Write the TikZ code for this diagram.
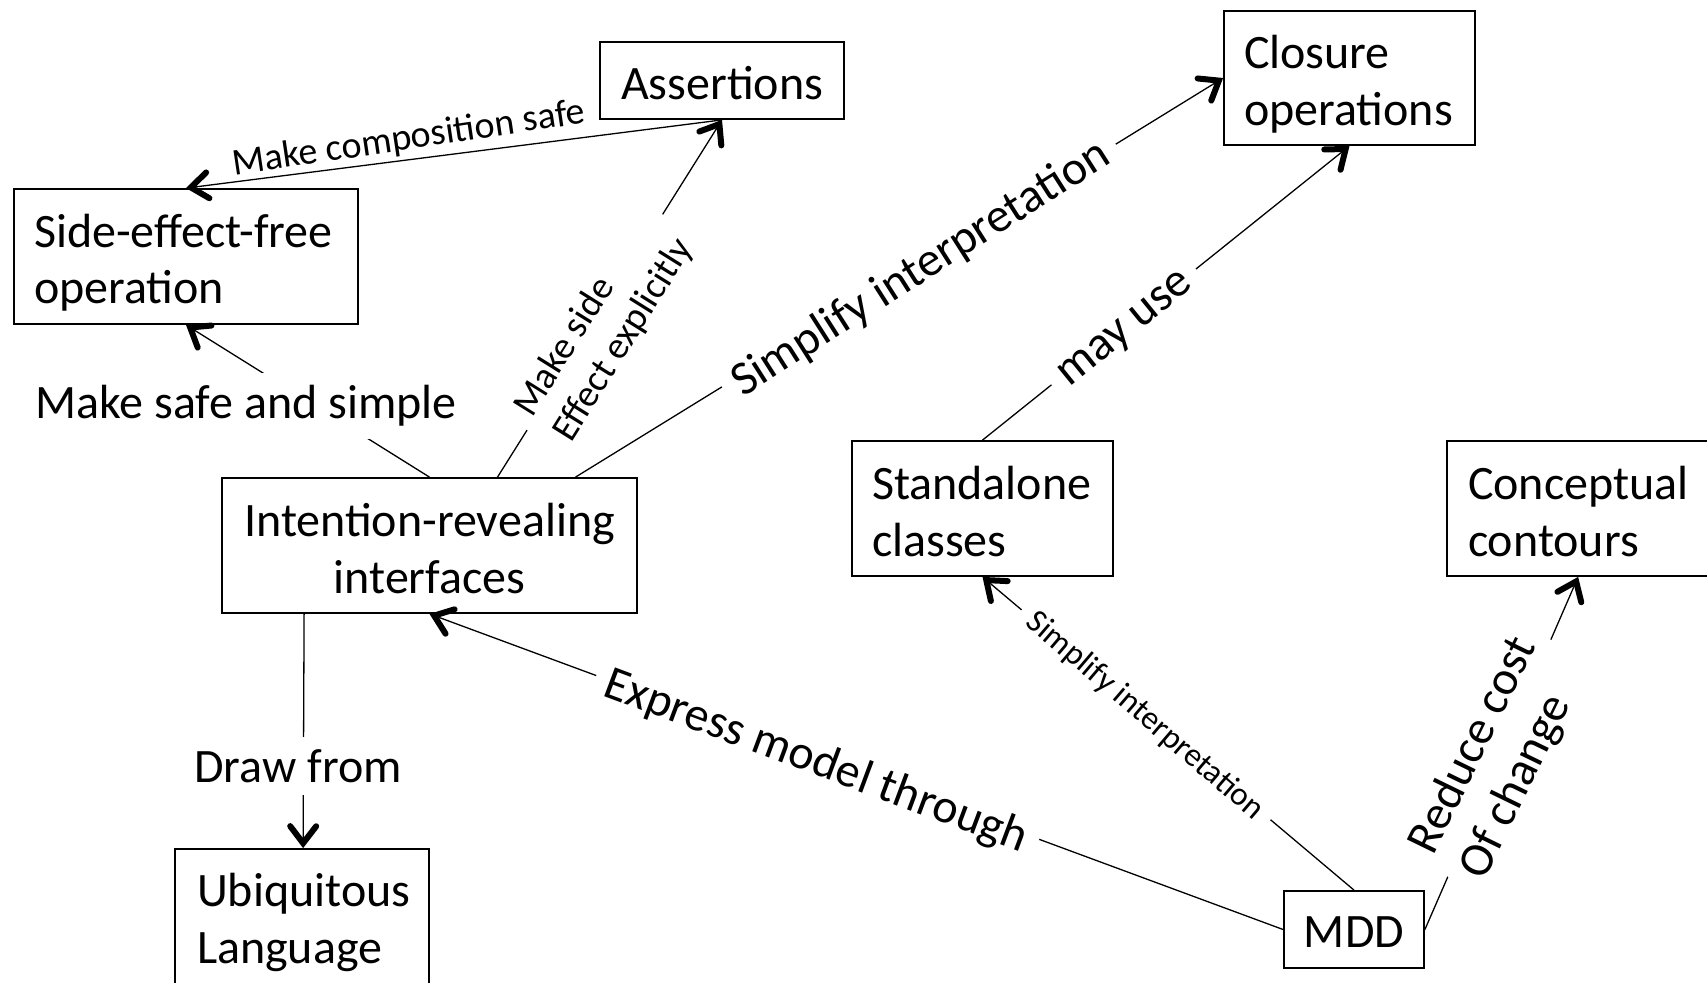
\documentclass[tikz,border=0pt]{standalone}
\usepackage{fontspec}
\setmainfont{Carlito}
\usetikzlibrary{arrows.meta,calc}
\newcommand\bigtxt{\fontsize{24pt}{28.3pt}\selectfont}
\newcommand\midtxt{\fontsize{19pt}{23pt}\selectfont}
\newcommand\smalltxt{\fontsize{16.5pt}{20pt}\selectfont}
\begin{document}
\begin{tikzpicture}[x=0.5pt,y=-0.5pt,
  frame/.style={draw, line width=0.9pt, inner sep=0pt},
  txt/.style={inner sep=0pt, font=\bigtxt},
  ltxt/.style={txt, align=left},
  conn/.style={line width=0.65pt},
  arr/.style={conn, -{Straight Barb[length=8.5pt,width=13pt,line width=3pt,line cap=round]}},
  lab/.style={fill=white, inner sep=6pt}]
\useasboundingbox (0,0) rectangle (1707,982);

% concept boxes (frame + text)
\node[frame, minimum width=122pt, minimum height=38.5pt] (asrt) at (722,80.5) {};
\node[txt] (asrtT) at ($(asrt.center)+(0,3)$) {Assertions};

\node[frame, minimum width=125.5pt, minimum height=67pt] (clos) at (1349.5,78) {};
\node[ltxt, text width=105.5pt] (closT) at ($(clos.center)+(0,6)$) {Closure\\operations};

\node[frame, minimum width=172pt, minimum height=67.5pt] (sefo) at (186,256.5) {};
\node[ltxt, text width=152pt] (sefoT) at ($(sefo.center)+(0,6)$) {Side-effect-free\\operation};

\node[frame, minimum width=207.5pt, minimum height=67.5pt] (intf) at (429.5,545.5) {};
\node[txt, align=center] (intfT) at ($(intf.center)+(0,3)$) {Intention-revealing\\interfaces};

\node[frame, minimum width=130.5pt, minimum height=67.5pt] (stnd) at (982.5,508.5) {};
\node[ltxt, text width=110.5pt] (stndT) at ($(stnd.center)+(0,3)$) {Standalone\\classes};

\node[frame, minimum width=146.5pt, minimum height=67.5pt] (conc) at (1593.5,508.5) {};
\node[ltxt, text width=125.5pt] (concT) at ($(conc.center)+(0,3)$) {Conceptual\\contours};

\node[frame, minimum width=127pt, minimum height=67.5pt] (ubiq) at (302,916.5) {};
\node[ltxt, text width=105pt] (ubiqT) at ($(ubiq.center)+(0,6)$) {Ubiquitous\\Language};

\node[frame, minimum width=70pt, minimum height=38.5pt] (mdd) at (1354,929.5) {};
\node[txt] (mddT) at ($(mdd.center)+(0,3)$) {MDD};

% relations
\draw[arr] (asrt.south) -- (sefo.north);
\draw[arr] (intf.north) -- (sefo.south);
\draw[arr] ($(intf.north)+(68,0)$) -- (asrt.south);
\draw[arr] ($(intf.north)+(146,0)$) -- (clos.west);
\draw[arr] (stnd.north) -- (clos.south);
\draw[arr] (mdd.north) -- (stnd.south);
\draw[arr] (mdd.west) -- (intf.south);
\draw[arr] (mdd.east) -- ($(conc.south west)+(132,0)$);
\draw[arr] ($(intf.south west)+(83,0)$) -- ($(ubiq.north west)+(129,0)$);

% relation labels
\node[font=\midtxt, rotate=8.5, inner sep=0pt] (l1) at (409,139) {Make composition safe};
\node[lab, font=\midtxt, rotate=58, align=left] (l2) at (604,328) {Make side\\Effect explicitly};
\node[lab, font=\bigtxt] (l3) at (246,406) {Make safe and simple};
\node[lab, font=\bigtxt, rotate=32.5] (l4) at (921,269) {Simplify interpretation};
\node[lab, font=\bigtxt, rotate=39] (l5) at (1127,331) {may use};
\node[lab, font=\smalltxt, rotate=-40.5] (l6) at (1145,716) {Simplify interpretation};
\node[lab, font=\bigtxt, rotate=-20.5] (l7) at (816,762) {Express model through};
\node[lab, font=\bigtxt, rotate=64, align=left] (l8) at (1499,758) {Reduce cost\\Of change};
\node[lab, font=\bigtxt] (l9) at (298,766) {Draw from};
\end{tikzpicture}
\end{document}
